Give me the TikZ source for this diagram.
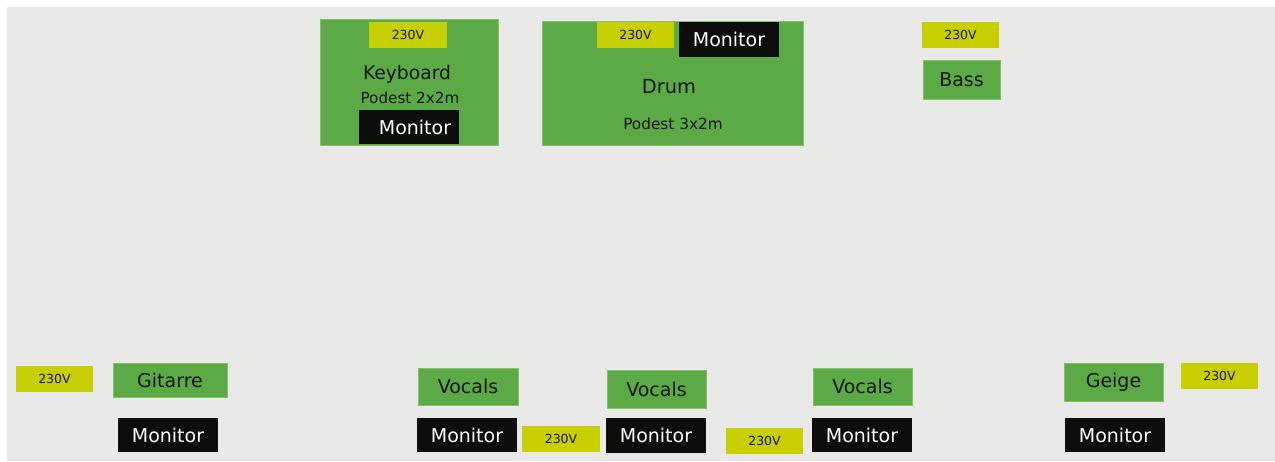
\documentclass[tikz,border=0pt]{standalone}
\usepackage{fontspec}
\setmainfont{DejaVu Sans}
\definecolor{bgc}{HTML}{E8E9E6}
\definecolor{grn}{HTML}{5CAA45}
\definecolor{grnline}{HTML}{86C06F}
\definecolor{ylw}{HTML}{C8CF00}
\definecolor{blk}{HTML}{0D0D0B}
\definecolor{txt}{HTML}{151515}
\tikzset{
  base/.style={rectangle, inner sep=0pt, outer sep=0pt},
  stage/.style={base, fill=grn, draw=grnline, line width=0.8pt},
  inst/.style={base, fill=grn, draw=grnline, line width=0.8pt, text=txt, font=\fontsize{19}{22}\selectfont},
  power/.style={base, fill=ylw, text=txt, font=\fontsize{12.5}{15}\selectfont},
  mon/.style={base, fill=blk, text=white, font=\fontsize{19}{22}\selectfont},
  lbl/.style={base, text=txt},
}
\begin{document}
\begin{tikzpicture}[x=1pt, y=-1pt]
\useasboundingbox (0,0) rectangle (1275,461);
\fill[white] (0,0) rectangle (1275,461);
\fill[bgc] (7,7) rectangle (1275,461);

% Keyboard stage
\node[stage, minimum width=178pt, minimum height=126pt] (kbstage) at (409,82) {};
\node[power, minimum width=78pt, minimum height=26pt] (kbpow) at (408,35) {230V};
\node[lbl, font=\fontsize{18.7}{22}\selectfont] (kbname) at (407,74) {Keyboard};
\node[lbl, font=\fontsize{15.2}{18}\selectfont] (kbpod) at (410,98) {Podest 2x2m};
\node[mon, minimum width=100pt, minimum height=34pt] (kbmon) at (409,127) {\hspace{12pt}Monitor};

% Drum stage
\node[stage, minimum width=261pt, minimum height=124pt] (drstage) at (672.5,83) {};
\node[power, minimum width=77pt, minimum height=26pt] (drpow) at (635.5,35) {230V};
\node[mon, minimum width=100pt, minimum height=35pt] (drmon) at (729,39.5) {Monitor};
\node[lbl, font=\fontsize{19.4}{22}\selectfont] (drname) at (669,87) {Drum};
\node[lbl, font=\fontsize{15.3}{18}\selectfont] (drpod) at (673,124) {Podest 3x2m};

% Bass
\node[power, minimum width=77pt, minimum height=26pt] (bspow) at (960.5,35) {230V};
\node[inst, minimum width=77pt, minimum height=39pt] (bass) at (961.5,79.5) {Bass};

% Bottom row
\node[power, minimum width=77pt, minimum height=26pt] (gtpow) at (54.5,379) {230V};
\node[inst, minimum width=114pt, minimum height=34pt] (gitarre) at (170,380) {Gitarre};
\node[mon, minimum width=100pt, minimum height=34pt] (gtmon) at (168,435) {Monitor};

\node[inst, minimum width=100pt, minimum height=37pt] (voc1) at (468,386.5) {Vocals};
\node[mon, minimum width=100pt, minimum height=34pt] (mon1) at (467,435) {Monitor};
\node[power, minimum width=78pt, minimum height=26pt] (pow1) at (561,439) {230V};

\node[inst, minimum width=99pt, minimum height=38pt] (voc2) at (656.5,389) {Vocals};
\node[mon, minimum width=100pt, minimum height=35pt] (mon2) at (656,435.5) {Monitor};
\node[power, minimum width=77pt, minimum height=26pt] (pow2) at (764.5,441) {230V};

\node[inst, minimum width=99pt, minimum height=37pt] (voc3) at (862.5,386.5) {Vocals};
\node[mon, minimum width=100pt, minimum height=34pt] (mon3) at (862,435) {Monitor};

\node[inst, minimum width=99pt, minimum height=38pt] (geige) at (1113.5,382) {Geige};
\node[power, minimum width=77pt, minimum height=26pt] (gepow) at (1219.5,376) {230V};
\node[mon, minimum width=100pt, minimum height=34pt] (gemon) at (1115,435) {Monitor};
\end{tikzpicture}
\end{document}
